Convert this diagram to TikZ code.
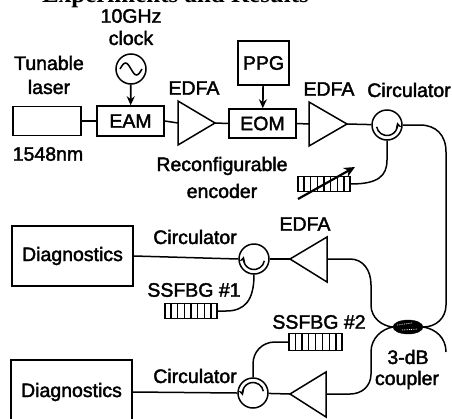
\documentclass[tikz,border=0pt]{standalone}
\usepackage{fontspec}
\setmainfont{Liberation Sans}
\newfontfamily\labelfont[RawFeature={embolden=2}]{Liberation Sans}
\newfontfamily\titlefont{Liberation Serif Bold}
\usetikzlibrary{calc, shapes.geometric, arrows.meta}

\tikzset{
    fibre/.style={line width=1.5pt},
    feed/.style={line width=1.7pt, -{Stealth[length=9pt, width=8pt]}},
    turn/.style={line width=1.5pt, -{Stealth[length=6pt, width=6pt]}},
    labelled/.style={font=\labelfont\fontsize{19.5}{21}\selectfont, inner sep=0pt},
    device/.style={draw, line width=1.5pt, labelled},
    circulator/.style={draw, line width=1.5pt, circle, inner sep=0pt, minimum size=30pt},
    grating/.style={draw, line width=1.4pt, inner sep=0pt, minimum height=15pt},
}

\newcommand{\gratinglines}[1]{
    \foreach \i in {1,...,7}
        \draw[line width=1.2pt] ($(#1.south west)!\i/8!(#1.south east)$) -- ($(#1.north west)!\i/8!(#1.north east)$);
}

\begin{document}
\begin{tikzpicture}[x=1pt, y=-1pt]
    \useasboundingbox (0,0) rectangle (452,418);
    \clip (0,0) rectangle (452,418);

    % title cut off by the page edge
    \node[anchor=base west, inner sep=0pt, font=\titlefont\fontsize{25}{27}\selectfont] (title) at (42,2.5) {Experiments and Results};

    % top row
    \node[device, minimum width=68pt, minimum height=29pt] (laser) at (47,121) {};
    \node[device, minimum width=67pt, minimum height=30pt] (eam) at (130.5,121) {EAM};
    \node[device, minimum width=67pt, minimum height=29pt] (eom) at (262.5,123.5) {EOM};
    \node[device, minimum width=51pt, minimum height=44pt] (ppg) at (263.5,63) {PPG};
    \node[circulator] (circa) at (387,125) {};
    \node[circulator] (clock) at (131,69) {};

    \coordinate (edfaain) at (178,123);
    \coordinate (edfaaout) at (215,123);
    \coordinate (edfabin) at (309,124);
    \coordinate (edfabout) at (347,124);
    \draw[fibre] (178,101) -- (edfaaout) -- (178,145) -- cycle;
    \draw[fibre] (309,102) -- (edfabout) -- (309,146) -- cycle;

    \node[labelled] (ghz) at (131,16) {10GHz};
    \node[labelled] (clocklabel) at (131,38) {clock};
    \node[labelled] (tunable) at (49,63) {Tunable};
    \node[labelled] (laserlabel) at (49,87) {laser};
    \node[labelled] (wavelength) at (48,154) {1548nm};
    \node[labelled] (edfalabela) at (194,88) {EDFA};
    \node[labelled] (edfalabelb) at (329,89) {EDFA};
    \node[labelled] (circlabela) at (409,90) {Circulator};
    \node[labelled] (reconf) at (222,166) {Reconfigurable};
    \node[labelled] (encoder) at (222,191) {encoder};

    \draw[fibre] (120,69) sin ++(5.5,-6) cos ++(5.5,6) sin ++(5.5,6) cos ++(5.5,-6);

    \draw[fibre] (laser) -- (eam);
    \draw[fibre] (eam.east) -- (edfaain);
    \draw[fibre] (edfaaout) -- (eom.west);
    \draw[fibre] (eom.east) -- (edfabin);
    \draw[fibre] (edfabout) -- (circa);
    \draw[feed] (clock) -- (eam);
    \draw[feed] (ppg) -- (eom);

    % reconfigurable encoder
    \node[grating, minimum width=52pt] (fbga) at (324,184) {};
    \gratinglines{fbga}
    \draw[line width=2.2pt, -{Stealth[length=11pt, width=10pt]}] (298,199) -- (355,167);
    \draw[fibre] (circa.south) -- (387,160) .. controls (387,176) and (378,184) .. (fbga.east);

    % middle row
    \node[device, minimum width=121pt, minimum height=60pt] (diaga) at (72.5,256) {Diagnostics};
    \node[circulator] (circb) at (254,259) {};
    \coordinate (edfacin) at (327,259);
    \coordinate (edfacout) at (290,259);
    \draw[fibre] (327,237) -- (edfacout) -- (327,282) -- cycle;
    \node[labelled] (circlabelb) at (195,237) {Circulator};
    \node[labelled] (edfalabelc) at (305,224) {EDFA};
    \node[labelled] (fbglabela) at (194,290) {SSFBG \#1};
    \node[grating, minimum width=52pt] (fbgb) at (191,311) {};
    \gratinglines{fbgb}

    \draw[fibre] (diaga.east) -- (circb.west);
    \draw[fibre] (circb) -- (edfacout);
    \draw[fibre] (circb.south) .. controls (254,300) and (245,311) .. (226,311) -- (fbgb.east);

    % bottom row
    \node[device, minimum width=121pt, minimum height=64pt] (diagb) at (71.5,392) {Diagnostics};
    \node[circulator] (circc) at (253,393) {};
    \coordinate (edfadin) at (326,394);
    \coordinate (edfadout) at (290,394);
    \draw[fibre] (326,372) -- (edfadout) -- (326,417) -- cycle;
    \node[labelled] (circlabelc) at (195,376) {Circulator};
    \node[labelled] (fbglabelb) at (319,322) {SSFBG \#2};
    \node[grating, minimum width=53pt, minimum height=17pt] (fbgc) at (315.5,342) {};
    \gratinglines{fbgc}

    \draw[fibre] (diagb.east) -- (circc.west);
    \draw[fibre] (circc) -- (edfadout);
    \draw[fibre] (circc.north) -- (253,364) .. controls (253,352) and (262,342) .. (275,342) -- (fbgc.west);

    % 3-dB coupler
    \node[draw, fill=black, ellipse, inner sep=0pt, minimum width=30pt, minimum height=14pt] (coupler) at (408,327) {};
    \draw[white, line width=0.8pt, densely dotted] (397,325) -- (412,323) (402,330) -- (418,329);
    \node[labelled] (dblabel) at (408,357) {3-dB};
    \node[labelled] (couplerlabel) at (407,380) {coupler};

    \coordinate (tailb) at (446,352);
    \draw[fibre] (circa.east) -- (420,125) .. controls (436,125) and (446,135) .. (446,152)
        -- (446,305) .. controls (446,318) and (436,327) .. (coupler.east);
    \draw[fibre] (edfacin) -- (350,259) .. controls (363,259) and (371,270) .. (371,285)
        -- (371,305) .. controls (371,318) and (382,326) .. (coupler.west);
    \draw[fibre] (coupler.west) .. controls (382,329) and (371,338) .. (371,352)
        -- (371,374) .. controls (371,386) and (362,394) .. (350,394) -- (edfadin);
    \draw[fibre] (coupler.east) .. controls (436,329) and (446,338) .. (tailb);

    % arrows inside the circulators
    \draw[turn] ($(circa)+(170:10.5)$) arc (170:-15:10.5);
    \draw[turn] ($(circb)+(10:10.5)$) arc (10:195:10.5);
    \draw[turn] ($(circc)+(-10:10.5)$) arc (-10:-195:10.5);
\end{tikzpicture}
\end{document}
